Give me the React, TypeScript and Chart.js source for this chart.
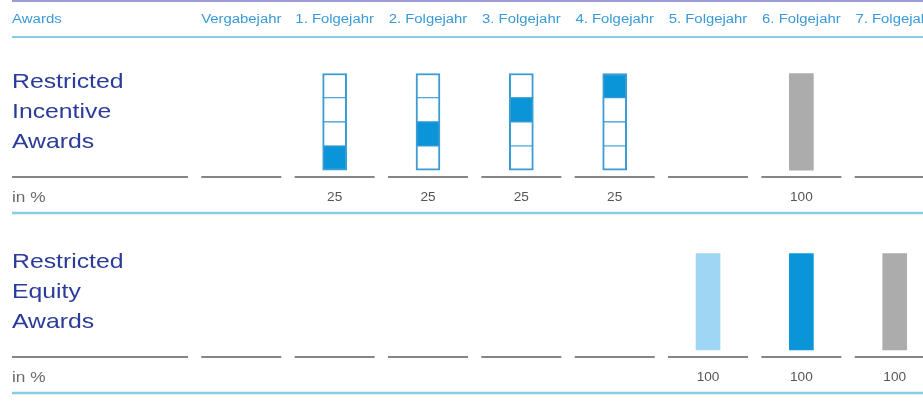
import React, { useEffect, useRef } from "react";
import { Chart, registerables } from "chart.js";

Chart.register(...registerables);

// ---- data ----
const headerLabel = "Awards";
const columnLabels = [
  "Vergabejahr",
  "1. Folgejahr",
  "2. Folgejahr",
  "3. Folgejahr",
  "4. Folgejahr",
  "5. Folgejahr",
  "6. Folgejahr",
  "7. Folgejahr",
];
const unitLabel = "in %";

const incentiveTitle = ["Restricted", "Incentive", "Awards"];
const incentiveTrancheShares = [25, 25, 25, 25];
const incentiveVestingColumns = [1, 2, 3, 4];
const incentiveBlockedColumns = [6];
const incentiveBlockedValues = [100];
const incentivePercents: (number | null)[] = [null, 25, 25, 25, 25, null, 100, null];

const equityTitle = ["Restricted", "Equity", "Awards"];
const equityColumns = [5, 6, 7];
const equityValues = [100, 100, 100];
const equityPercents: (number | null)[] = [null, null, null, null, null, 100, 100, 100];

// ---- styles ----
const BLUE = "#0a95d8";
const LIGHT_BLUE = "#9fd6f3";
const GRAY = "#acacac";
const SEG_BORDER = "#3b9bd4";
const TITLE = "#2a3b9a";
const HEADER = "#3a9ad8";
const TEAL = "#86cde1";
const SEP = "#858585";
const FONT = "'Liberation Sans', Arial, sans-serif";

function drawLine(ctx: CanvasRenderingContext2D, x1: number, y1: number, x2: number, y2: number, color: string, w: number) {
  ctx.save();
  ctx.strokeStyle = color;
  ctx.lineWidth = w;
  ctx.beginPath();
  ctx.moveTo(x1, y1);
  ctx.lineTo(x2, y2);
  ctx.stroke();
  ctx.restore();
}

function drawText(
  ctx: CanvasRenderingContext2D,
  text: string,
  x: number,
  y: number,
  font: string,
  color: string,
  align: CanvasTextAlign,
  sx: number
) {
  ctx.save();
  ctx.translate(x, y);
  ctx.scale(sx, 1);
  ctx.font = font;
  ctx.fillStyle = color;
  ctx.textAlign = align;
  ctx.textBaseline = "alphabetic";
  ctx.fillText(text, 0, 0);
  ctx.restore();
}

const decorPlugin = {
  id: "decor",
  afterDraw(chart: any) {
    const ctx: CanvasRenderingContext2D = chart.ctx;
    const xs = chart.scales.x;
    const W = chart.width;
    const left = 12;
    const labelRight = 188;
    const half = 40;

    drawLine(ctx, left, 1, W, 1, "#9c9ad9", 2);
    drawText(ctx, headerLabel, left, 23, `12px ${FONT}`, HEADER, "left", 1.25);
    columnLabels.forEach((l, k) => {
      drawText(ctx, l, xs.getPixelForValue(k), 23, `12px ${FONT}`, HEADER, "center", 1.24);
    });
    drawLine(ctx, left, 37, W, 37, TEAL, 2);

    const panels = [
      { scale: chart.scales.yTop, title: incentiveTitle, pct: incentivePercents },
      { scale: chart.scales.yBot, title: equityTitle, pct: equityPercents },
    ];
    panels.forEach((p) => {
      const base = p.scale.getPixelForValue(0);
      p.title.forEach((t, i) => {
        drawText(ctx, t, left, base - 82 + 30 * i, `21px ${FONT}`, TITLE, "left", 1.18);
      });
      drawLine(ctx, left, base + 7, labelRight, base + 7, SEP, 2);
      columnLabels.forEach((_, k) => {
        const c = xs.getPixelForValue(k);
        drawLine(ctx, c - half, base + 7, c + half, base + 7, SEP, 2);
        const v = p.pct[k];
        if (v !== null && v !== undefined) {
          drawText(ctx, String(v), c, base + 31, `13px ${FONT}`, "#555555", "center", 1.05);
        }
      });
      drawText(ctx, unitLabel, left, base + 32, `15px ${FONT}`, "#6a6a6a", "left", 1.15);
      drawLine(ctx, left, base + 43, W, base + 43, TEAL, 2.5);
    });
  },
};

export default function App() {
  const ref = useRef<HTMLCanvasElement>(null);

  useEffect(() => {
    document.body.style.margin = "0";
    const cum: number[] = [];
    incentiveTrancheShares.reduce((acc, s) => {
      cum.push(acc);
      return acc + s;
    }, 0);

    const trancheSets = incentiveTrancheShares.map((share, i) => ({
      label: `Tranche ${i + 1}`,
      data: incentiveVestingColumns.map((col) => ({ x: col, y: [cum[i], cum[i] + share] })),
      backgroundColor: incentiveVestingColumns.map((_, j) => (j === i ? BLUE : "#ffffff")),
      borderColor: SEG_BORDER,
      borderWidth: { left: 2, right: 2, top: i === incentiveTrancheShares.length - 1 ? 2 : 1, bottom: i === 0 ? 2 : 0.75 },
      borderSkipped: false,
      yAxisID: "yTop",
    }));

    const chart = new Chart(ref.current as HTMLCanvasElement, {
      type: "bar",
      data: {
        datasets: [
          ...trancheSets,
          {
            label: "Incentive gesperrt",
            data: incentiveBlockedColumns.map((c, k) => ({ x: c, y: incentiveBlockedValues[k] })),
            backgroundColor: GRAY,
            borderWidth: 0,
            yAxisID: "yTop",
          },
          {
            label: "Equity",
            data: equityColumns.map((c, k) => ({ x: c, y: equityValues[k] })),
            backgroundColor: [LIGHT_BLUE, BLUE, GRAY],
            borderWidth: 0,
            yAxisID: "yBot",
          },
        ] as any,
      },
      options: {
        animation: false,
        responsive: false,
        devicePixelRatio: 1,
        layout: { padding: 0 },
        datasets: { bar: { barThickness: 24, grouped: false } } as any,
        plugins: { legend: { display: false }, tooltip: { enabled: false } },
        scales: {
          x: { type: "linear", min: -2.585, max: 7.303, offset: false, display: false },
          yTop: { type: "linear", position: "left", min: -247.6, max: 176.2, display: false },
          yBot: { type: "linear", position: "left", min: -61.1, max: 362.7, display: false },
        } as any,
      },
      plugins: [decorPlugin],
    });
    return () => chart.destroy();
  }, []);

  return (
    <div style={{ width: 923, height: 409, background: "#ffffff" }}>
      <canvas ref={ref} width={923} height={409} style={{ display: "block" }} />
    </div>
  );
}
